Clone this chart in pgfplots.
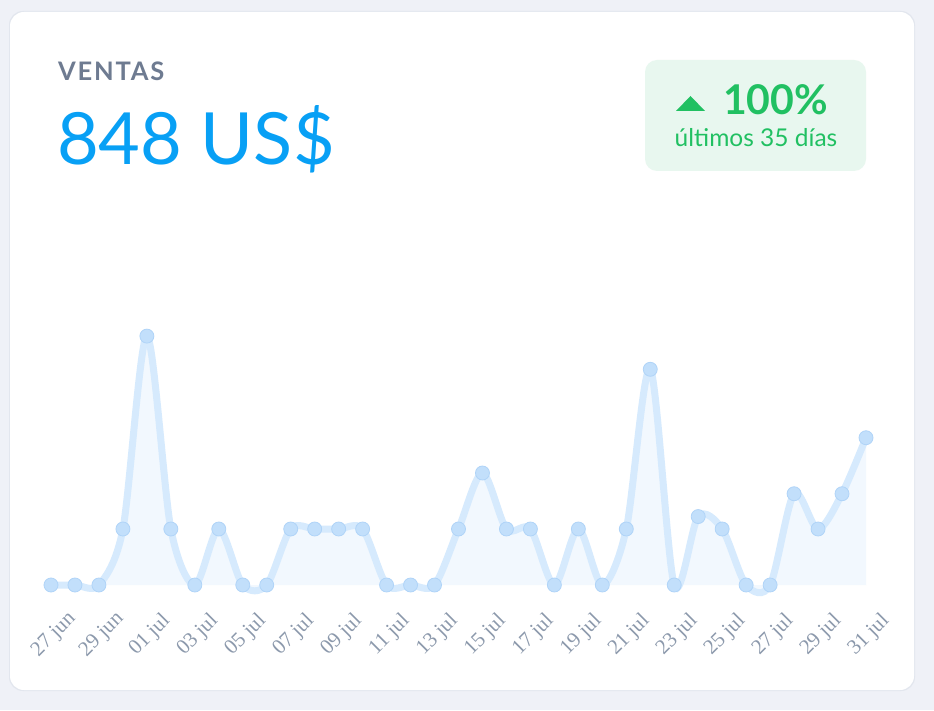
\documentclass[border=0pt]{standalone}
\usepackage{fontspec}
\setmainfont{Lato}
\newfontfamily\tickfont{Liberation Serif}
\usepackage{pgfplots}
\pgfplotsset{compat=1.18}
\definecolor{pagebg}{RGB}{239,241,247}
\definecolor{cardedge}{RGB}{226,230,238}
\definecolor{titlegray}{RGB}{110,123,145}
\definecolor{bigblue}{RGB}{8,160,245}
\definecolor{badgebg}{RGB}{232,247,239}
\definecolor{badgegreen}{RGB}{33,192,98}
\definecolor{linecol}{RGB}{214,234,253}
\definecolor{markfill}{RGB}{194,223,251}
\definecolor{markdraw}{RGB}{176,212,248}
\definecolor{areafill}{RGB}{242,248,254}
\definecolor{tickgray}{RGB}{140,153,172}
\begin{document}
\begin{tikzpicture}[x=1pt,y=1pt]
% page and card
\fill[pagebg] (0,0) rectangle (934,710);
\fill[cardedge,rounded corners=14pt] (9,19) rectangle (915,699);
\fill[white,rounded corners=14pt] (10,20) rectangle (914,698);
% titles
\node[anchor=base west,inner sep=0pt,text=titlegray] at (58,629)
  {\fontsize{25.5}{28}\selectfont\bfseries\addfontfeatures{LetterSpace=7}VENTAS};
\node[anchor=base west,inner sep=0pt,text=bigblue] at (57,545)
  {\fontsize{72}{80}\selectfont 848 US\$};
% badge
\fill[badgebg,rounded corners=12pt] (645,539) rectangle (866,650);
\fill[badgegreen] (676,599) -- (705,599) -- (690.5,614) -- cycle;
\node[anchor=base west,inner sep=0pt,text=badgegreen] at (723,595)
  {\fontsize{41}{44}\selectfont\bfseries 100\%};
\node[anchor=base,inner sep=0pt,text=badgegreen] at (756,563)
  {\fontsize{24.5}{28}\selectfont últimos 35 días};
% chart
\begin{axis}[
  at={(51pt,125pt)}, anchor=origin,
  scale only axis, width=815pt, height=280pt,
  xmin=0, xmax=34, ymin=0, ymax=135,
  clip=false,
  axis line style={draw=none},
  hide y axis,
  tick style={draw=none},
  xtick={0,2,...,34},
  xticklabels={27 jun,29 jun,01 jul,03 jul,05 jul,07 jul,09 jul,11 jul,13 jul,15 jul,17 jul,19 jul,21 jul,23 jul,25 jul,27 jul,29 jul,31 jul},
  xticklabel style={xshift=3pt, yshift=-50pt, rotate=45, anchor=center,
    font=\tickfont\fontsize{21}{23}\selectfont, text=tickgray},
]
\pgfplotstableread{
x y
0 0
1 0
2 0
3 27
4 120
5 27
6 0
7 27
8 0
9 0
10 27
11 27
12 27
13 27
14 0
15 0
16 0
17 27
18 54
19 27
20 27
21 0
22 27
23 0
24 27
25 104
26 0
27 33
28 27
29 0
30 0
31 44
32 27
33 44
34 71
}\sales
\addplot[draw=none, fill=areafill, smooth, tension=0.5] table {\sales} \closedcycle;
\addplot[linecol, line width=7pt, smooth, tension=0.5] table {\sales};
\addplot[only marks, mark=*, mark size=7pt,
  mark options={fill=markfill, draw=markdraw, line width=0.8pt}] table {\sales};
\end{axis}
\end{tikzpicture}
\end{document}
